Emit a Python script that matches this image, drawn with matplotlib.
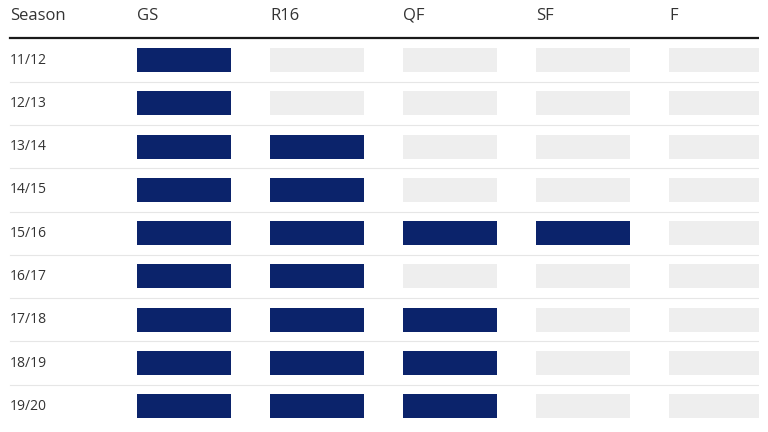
import matplotlib
matplotlib.use("Agg")
import matplotlib.pyplot as plt

seasons = ["11/12", "12/13", "13/14", "14/15", "15/16", "16/17", "17/18", "18/19", "19/20"]
stages = ["GS", "R16", "QF", "SF", "F"]
# number of stages reached (1 = group stage only)
reached = [1, 1, 2, 2, 4, 2, 3, 3, 3]

NAVY = "#0b236b"
GRAY = "#eeeeee"
TEXT = "#333333"

plt.rcParams['font.family'] = ['Open Sans', 'DejaVu Sans']

W = 759
fig = plt.figure(figsize=(7.68, 4.32), dpi=100)
ax = fig.add_axes([0, 0, W/768, 1])
ax.set_xlim(-184/133, (W-184)/133)
ax.set_ylim((432-60)/43.3, -60/43.3)
ax.axis("off")

bw = 94/133
bh = 24/43.3
for i, (s, r) in enumerate(zip(seasons, reached)):
    for k, st in enumerate(stages):
        ax.barh(i, bw, left=k - bw/2, height=bh, color=NAVY if k < r else GRAY, zorder=2)

x0 = 10/W
for i in range(len(seasons) - 1):
    ax.axhline(i + 0.5, xmin=x0, xmax=1, color="#e6e6e6", lw=0.8, zorder=1)
ax.axhline(-0.5, xmin=x0, xmax=1, color="#1a1a1a", lw=1.6, zorder=1)

xl = ax.get_xlim()
lab_x = xl[0] + (xl[1]-xl[0]) * x0
ax.text(lab_x, -1.02, "Season", ha="left", va="center", fontsize=12, color=TEXT)
for k, st in enumerate(stages):
    ax.text(k - bw/2, -1.02, st, ha="left", va="center", fontsize=12, color=TEXT)
for i, s in enumerate(seasons):
    ax.text(lab_x, i, s, ha="left", va="center", fontsize=10, color=TEXT)

fig.savefig("out.png", dpi=100)
